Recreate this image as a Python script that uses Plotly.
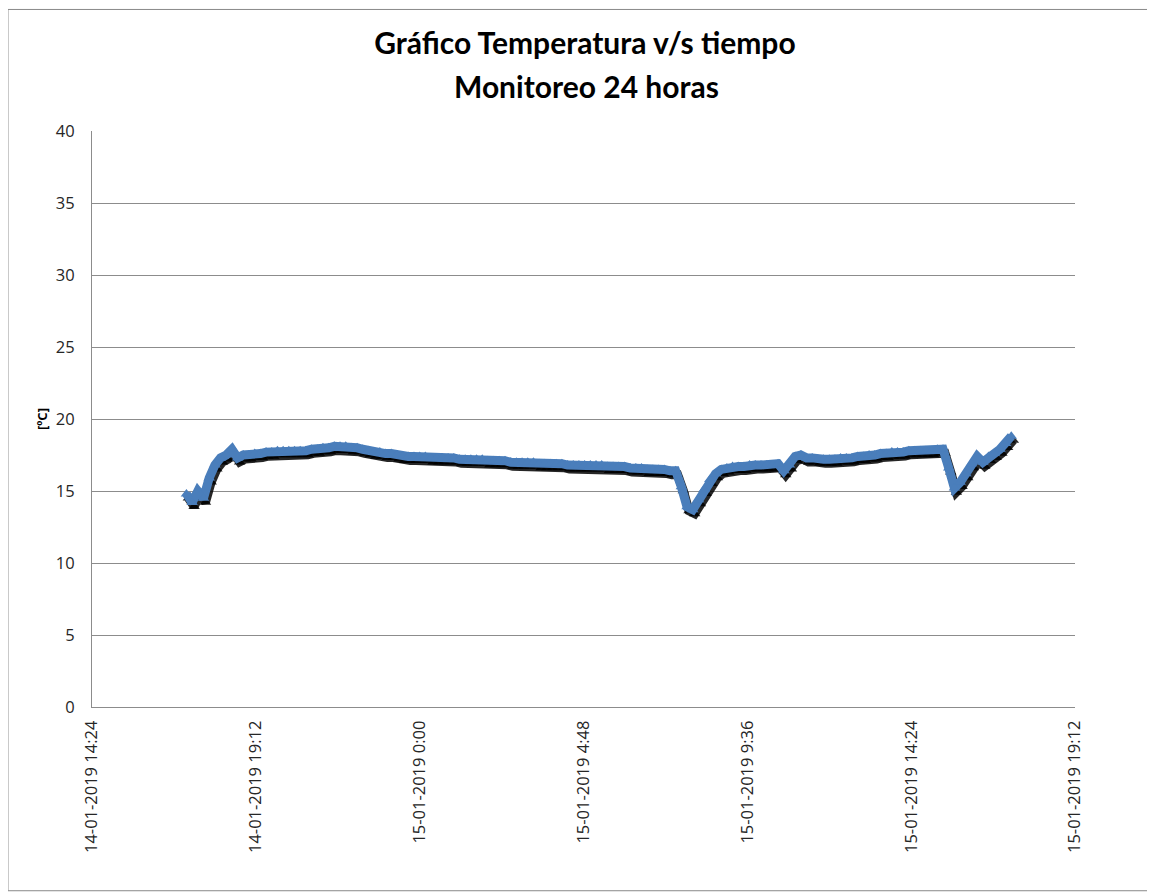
"""Temperature vs time scatter, Excel-style."""

import pandas as pd
import plotly.graph_objects as go

START = "2019-01-14 17:10"
STEP = "10min"

# readings every 10 minutes [ºC]
temps = [
    14.8, 14.2, 15.0, 14.5, 15.9,                      # 17:10-17:50
    16.8, 17.3, 17.5, 17.9, 17.3, 17.5,                # 18h
    17.5, 17.6, 17.6, 17.7, 17.7, 17.8,                # 19h
    17.8, 17.8, 17.8, 17.8, 17.8, 17.9,                # 20h
    17.9, 18.0, 18.0, 18.1, 18.1, 18.1,                # 21h
    18.0, 18.0, 17.9, 17.8, 17.7, 17.7,                # 22h
    17.6, 17.6, 17.5, 17.4, 17.4, 17.4,                # 23h
    17.4, 17.4, 17.3, 17.3, 17.3, 17.3,                # 0h
    17.3, 17.2, 17.2, 17.2, 17.2, 17.2,                # 1h
    17.1, 17.1, 17.1, 17.1, 17.0, 17.0,                # 2h
    17.0, 17.0, 17.0, 16.9, 16.9, 16.9,                # 3h
    16.9, 16.9, 16.8, 16.8, 16.8, 16.8,                # 4h
    16.8, 16.8, 16.8, 16.7, 16.7, 16.7,                # 5h
    16.7, 16.6, 16.6, 16.6, 16.5, 16.5,                # 6h
    16.5, 16.5, 16.4, 16.4, 15.3, 13.9,                # 7h
    13.7, 14.4, 15.1, 15.8, 16.2, 16.5,                # 8h
    16.6, 16.7, 16.7, 16.7, 16.8, 16.8,                # 9h
    16.8, 16.8, 16.8, 16.9, 16.4, 16.8,                # 10h
    17.4, 17.5, 17.3, 17.3, 17.2, 17.2,                # 11h
    17.2, 17.2, 17.3, 17.3, 17.3, 17.4,                # 12h
    17.4, 17.5, 17.5, 17.6, 17.6, 17.7,                # 13h
    17.7, 17.7, 17.8, 17.8, 17.8, 17.8,                # 14h
    17.8, 17.9, 17.9, 16.6, 15.2, 15.6,                # 15h
    16.2, 16.9, 17.4, 17.0, 17.4, 17.6,                # 16h
    17.9, 18.3, 18.8,                                  # 17:00-17:20
]
times = pd.date_range(START, periods=len(temps), freq=STEP)

x_range = ["2019-01-14 14:24", "2019-01-15 19:12"]
y_range = [0, 40]
y_ticks = [0, 5, 10, 15, 20, 25, 30, 35, 40]

BLUE = "#4A7EBB"
GRID = "#8C8C8C"
TXT = "#262626"
TICK_FONT = dict(family="Open Sans", size=16.5, color=TXT)
TITLE_FONT = dict(family="Lato", size=30, color="black")

fig = go.Figure()

# invisible copy on the base axes so they get drawn (grid, ticks)
fig.add_trace(go.Scatter(
    x=times, y=temps, mode="markers", opacity=0,
    hoverinfo="skip", showlegend=False,
))
# drop shadow: same data on overlay axes nudged a few pixels down/right
fig.add_trace(go.Scatter(
    x=times, y=temps, mode="lines+markers", xaxis="x2", yaxis="y2",
    line=dict(color="rgba(0,0,0,0.85)", width=9),
    marker=dict(symbol="triangle-up", size=10, color="rgba(0,0,0,0.85)"),
    hoverinfo="skip", showlegend=False,
))
# the series itself, on a top overlay with the true ranges
fig.add_trace(go.Scatter(
    x=times, y=temps, mode="lines+markers", xaxis="x3", yaxis="y3",
    line=dict(color=BLUE, width=9),
    marker=dict(symbol="triangle-up", size=10, color=BLUE),
    showlegend=False,
))

fig.update_layout(
    width=1147, height=885,
    margin=dict(l=84, r=80, t=123, b=186),
    paper_bgcolor="white", plot_bgcolor="white",
    font=TICK_FONT,
    title=dict(
        text="<b>Gráfico Temperatura v/s tiempo</b>",
        x=0.503, xanchor="center", y=1 - 35 / 885, yanchor="middle",
        font=TITLE_FONT,
    ),
    xaxis=dict(
        type="date", range=x_range,
        tick0=x_range[0], dtick=4.8 * 3600 * 1000,
        tickformat="%d-%m-%Y %-H:%M", tickangle=-90, tickfont=TICK_FONT,
        showgrid=False, showline=True, linecolor=GRID, linewidth=1,
        ticks="", ticklabelstandoff=6, zeroline=False,
    ),
    yaxis=dict(
        range=y_range, tickvals=y_ticks, tickfont=TICK_FONT,
        showgrid=True, gridcolor=GRID, gridwidth=1,
        showline=True, linecolor=GRID, linewidth=1,
        ticks="", ticklabelstandoff=13, zeroline=False,
        title=dict(text="<b>[ºC]</b>", font=dict(family="Open Sans", size=13, color="black"),
                   standoff=5),
    ),
    xaxis2=dict(
        type="date", overlaying="x", visible=False,
        range=["2019-01-14 14:20:30", "2019-01-15 19:08:30"],
    ),
    yaxis2=dict(overlaying="y", visible=False, range=[0.28, 40.28]),
    xaxis3=dict(type="date", overlaying="x", visible=False, range=x_range),
    yaxis3=dict(overlaying="y", visible=False, range=y_range),
    annotations=[dict(
        text="<b>Monitoreo 24 horas</b>", xref="paper", yref="paper",
        x=0.503, y=(699 - 78) / 576, xanchor="center", yanchor="middle",
        showarrow=False, font=TITLE_FONT,
    )],
    shapes=[dict(
        type="rect", xref="paper", yref="paper",
        x0=-0.0855, x1=1.1, y0=-0.319, y1=1.211,
        line=dict(color="#888888", width=1), layer="below",
    )],
)

fig.write_html("out.html")
